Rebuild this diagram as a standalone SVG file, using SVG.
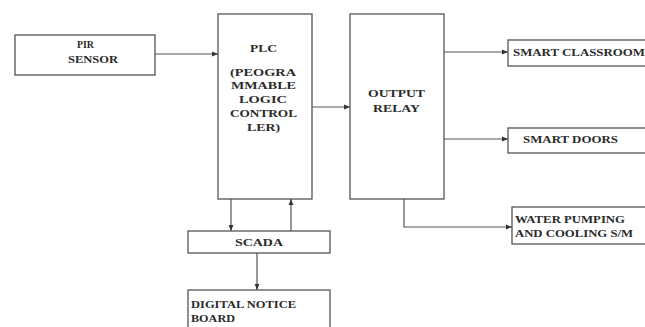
<svg xmlns="http://www.w3.org/2000/svg" width="645" height="327" viewBox="0 0 645 327">
<defs>
<style>
.box{fill:#fff;stroke:#555;stroke-width:1.3}
.ln{fill:none;stroke:#555;stroke-width:1.2}
.t{font-family:"Liberation Serif","Times New Roman",serif;font-weight:bold;font-size:11px;fill:#2a2a2a}
.m{text-anchor:middle}
</style>
<marker id="ah" viewBox="0 0 10 10" refX="10" refY="5" markerWidth="5" markerHeight="5" orient="auto">
<path d="M0,1 L10,5 L0,9 z" fill="#333"/>
</marker>
</defs>
<rect width="645" height="327" fill="#fff"/>
<g id="pir">
<rect class="box" x="15" y="35" width="140" height="40"/>
<text class="t" x="77" y="48" textLength="17" lengthAdjust="spacingAndGlyphs">PIR</text>
<text class="t" x="68" y="63" textLength="50" lengthAdjust="spacingAndGlyphs">SENSOR</text>
</g>
<g id="plc">
<rect class="box" x="218" y="14" width="94" height="185"/>
<text class="t" x="250" y="52" textLength="27" lengthAdjust="spacingAndGlyphs">PLC</text>
<text class="t" x="230" y="76" textLength="66" lengthAdjust="spacingAndGlyphs">(PEOGRA</text>
<text class="t" x="231" y="89" textLength="65" lengthAdjust="spacingAndGlyphs">MMABLE</text>
<text class="t" x="239" y="103" textLength="48" lengthAdjust="spacingAndGlyphs">LOGIC</text>
<text class="t" x="230" y="117" textLength="67" lengthAdjust="spacingAndGlyphs">CONTROL</text>
<text class="t" x="247" y="131" textLength="33" lengthAdjust="spacingAndGlyphs">LER)</text>
</g>
<g id="relay">
<rect class="box" x="350" y="14" width="94" height="185"/>
<text class="t" x="368" y="97" textLength="57" lengthAdjust="spacingAndGlyphs">OUTPUT</text>
<text class="t" x="373" y="112" textLength="47" lengthAdjust="spacingAndGlyphs">RELAY</text>
</g>
<g id="classroom">
<rect class="box" x="508" y="40" width="145" height="26"/>
<text class="t" x="513" y="56" textLength="132" lengthAdjust="spacingAndGlyphs">SMART CLASSROOM</text>
</g>
<g id="doors">
<rect class="box" x="508" y="128" width="145" height="25"/>
<text class="t" x="523" y="143" textLength="95" lengthAdjust="spacingAndGlyphs">SMART DOORS</text>
</g>
<g id="water">
<rect class="box" x="512" y="207" width="141" height="37"/>
<text class="t" x="515" y="223" textLength="110" lengthAdjust="spacingAndGlyphs">WATER PUMPING</text>
<text class="t" x="515" y="237" textLength="118" lengthAdjust="spacingAndGlyphs">AND COOLING S/M</text>
</g>
<g id="scada">
<rect class="box" x="188" y="231" width="142" height="22"/>
<text class="t" x="235" y="246" textLength="48" lengthAdjust="spacingAndGlyphs">SCADA</text>
</g>
<g id="notice">
<rect class="box" x="188" y="290" width="142" height="42"/>
<text class="t" x="191" y="308" textLength="105" lengthAdjust="spacingAndGlyphs">DIGITAL NOTICE</text>
<text class="t" x="191" y="322" textLength="44" lengthAdjust="spacingAndGlyphs">BOARD</text>
</g>
<g id="connectors">
<line class="ln" x1="155" y1="54" x2="218" y2="54" marker-end="url(#ah)"/>
<line class="ln" x1="312" y1="107" x2="350" y2="107" marker-end="url(#ah)"/>
<line class="ln" x1="444" y1="52" x2="508" y2="52" marker-end="url(#ah)"/>
<line class="ln" x1="444" y1="139" x2="508" y2="139" marker-end="url(#ah)"/>
<polyline class="ln" points="404,199 404,227 512,227" marker-end="url(#ah)"/>
<line class="ln" x1="231" y1="199" x2="231" y2="231" marker-end="url(#ah)"/>
<line class="ln" x1="291" y1="231" x2="291" y2="199" marker-end="url(#ah)"/>
<line class="ln" x1="257" y1="253" x2="257" y2="290" marker-end="url(#ah)"/>
</g>
</svg>
